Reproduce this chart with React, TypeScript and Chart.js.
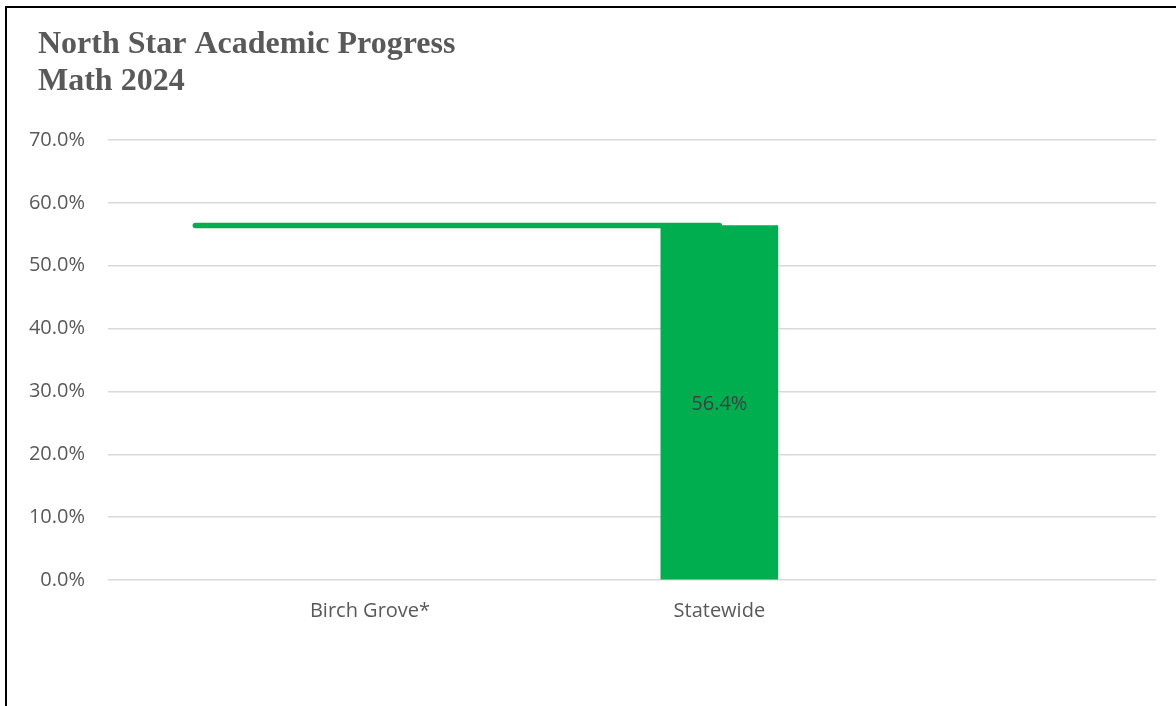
import React, { useEffect, useRef } from 'react';
import { Chart, registerables } from 'chart.js';

Chart.register(...registerables);

const titleLines = ['North Star Academic Progress', 'Math 2024'];
const categories = ['Birch Grove*', 'Statewide'];
const proficiencyValues: (number | null)[] = [null, 56.4];
const statewideLineValue = 56.4;
const statewideLineStart = 0.5;
const statewideLineEnd = 2;
const yMin = 0;
const yMax = 70;
const yStep = 10;

const GREEN = '#00AD4F';
const LABEL_FONT = 'Open Sans';
const LABEL_SIZE = 20;

const titlePlugin = {
  id: 'leftTitle',
  afterDraw(chart: any) {
    const ctx = chart.ctx;
    ctx.save();
    ctx.font = 'bold 32px "Liberation Serif"';
    ctx.fillStyle = '#595959';
    ctx.textAlign = 'left';
    ctx.textBaseline = 'alphabetic';
    titleLines.forEach((line, i) => {
      ctx.fillText(line, 38, 53 + i * 37);
    });
    ctx.restore();
  },
};

const barLabelPlugin = {
  id: 'barLabelPlugin',
  afterDatasetsDraw(chart: any) {
    const ctx = chart.ctx;
    chart.data.datasets.forEach((ds: any, i: number) => {
      if (ds.type !== 'bar') return;
      const meta = chart.getDatasetMeta(i);
      meta.data.forEach((el: any, j: number) => {
        const pt = ds.data[j];
        if (!pt || pt.y == null) return;
        const { x, y, base } = el.getProps(['x', 'y', 'base'], true);
        ctx.save();
        ctx.font = `${LABEL_SIZE}px "${LABEL_FONT}"`;
        ctx.fillStyle = '#404040';
        ctx.textAlign = 'center';
        ctx.textBaseline = 'middle';
        ctx.fillText(pt.y.toFixed(1) + '%', x, (y + base) / 2 + 2);
        ctx.restore();
      });
    });
  },
};

export default function App() {
  const canvasRef = useRef<HTMLCanvasElement | null>(null);

  useEffect(() => {
    if (!canvasRef.current) return;
    const barData = categories.map((_, i) => ({ x: i + 1, y: proficiencyValues[i] }));
    const lineData = [
      { x: statewideLineStart, y: statewideLineValue },
      { x: statewideLineEnd, y: statewideLineValue },
    ];
    const chart = new Chart(canvasRef.current, {
      type: 'bar',
      data: {
        datasets: [
          {
            type: 'line',
            label: 'Statewide line',
            data: lineData,
            borderColor: GREEN,
            backgroundColor: GREEN,
            borderWidth: 5.5,
            borderCapStyle: 'round',
            pointRadius: 0,
            fill: false,
            order: 0,
          } as any,
          {
            type: 'bar',
            label: 'Proficiency',
            data: barData,
            backgroundColor: GREEN,
            borderWidth: 0,
            barThickness: 117,
            order: 1,
          } as any,
        ],
      },
      options: {
        responsive: false,
        animation: false,
        layout: { padding: { left: 0, right: 20, top: 140, bottom: 86 } },
        plugins: {
          legend: { display: false },
          tooltip: { enabled: false },
          title: { display: false },
        },
        scales: {
          x: {
            type: 'linear',
            min: 0.25,
            max: 3.25,
            offset: false,
            grid: { display: false, drawTicks: false, offset: false },
            border: { display: false },
            afterBuildTicks: (scale: any) => {
              scale.ticks = categories.map((_, i) => ({ value: i + 1 }));
            },
            afterFit: (scale: any) => {
              scale.height = 40;
            },
            ticks: {
              autoSkip: false,
              maxRotation: 0,
              padding: 19,
              color: '#595959',
              font: { family: LABEL_FONT, size: LABEL_SIZE },
              callback: (v: any) => categories[Number(v) - 1] ?? '',
            },
          },
          y: {
            min: yMin,
            max: yMax,
            grid: { color: '#d9d9d9', lineWidth: 1.5, drawTicks: false },
            border: { display: false },
            afterFit: (scale: any) => {
              scale.width = 108;
            },
            ticks: {
              stepSize: yStep,
              padding: 23,
              color: '#595959',
              font: { family: LABEL_FONT, size: LABEL_SIZE },
              callback: (v: any) => Number(v).toFixed(1) + '%',
            },
          },
        },
      } as any,
      plugins: [barLabelPlugin, titlePlugin],
    });
    return () => chart.destroy();
  }, []);

  return (
    <div
      style={{
        position: 'fixed',
        left: 0,
        top: 0,
        width: 1176,
        height: 706,
        overflow: 'hidden',
        background: '#ffffff',
      }}
    >
      <div
        style={{
          position: 'absolute',
          left: 5,
          top: 6,
          width: 1200,
          height: 740,
          borderLeft: '2px solid #000',
          borderTop: '2px solid #000',
        }}
      />
      <canvas
        ref={canvasRef}
        width={1176}
        height={706}
        style={{ position: 'absolute', left: 0, top: 0, width: 1176, height: 706 }}
      />
    </div>
  );
}
